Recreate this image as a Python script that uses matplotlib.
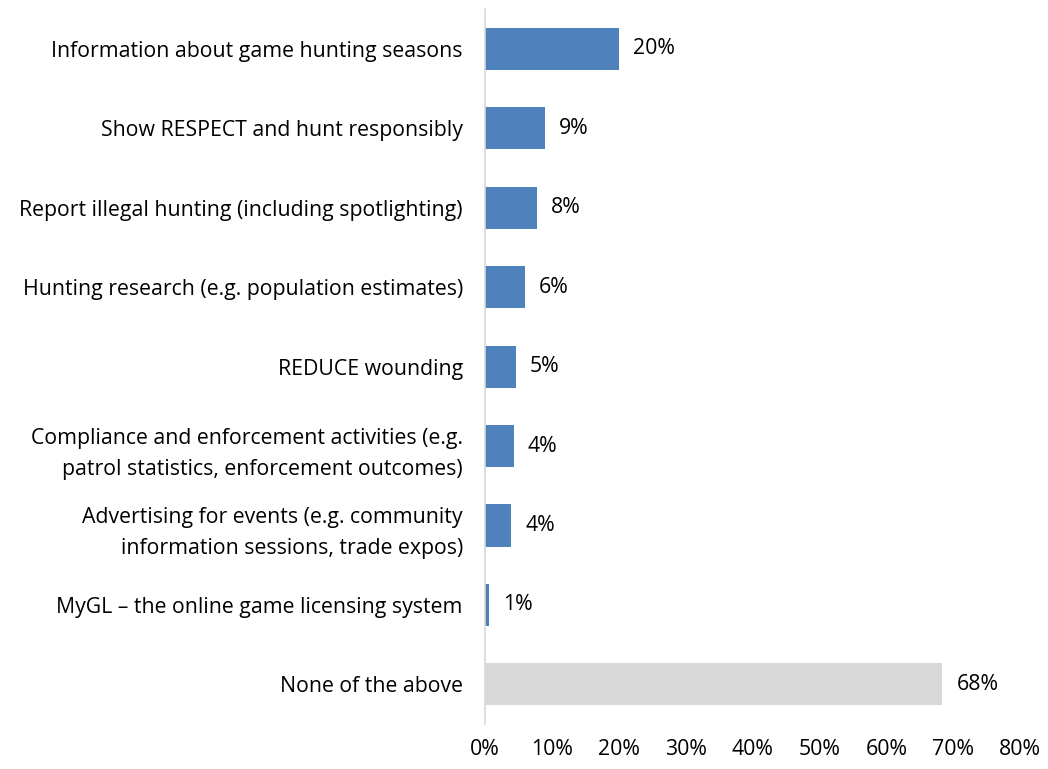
import matplotlib
matplotlib.use('Agg')
import matplotlib.pyplot as plt
from matplotlib.ticker import FuncFormatter

plt.rcParams['font.family'] = ['Open Sans', 'DejaVu Sans']

# Share of respondents, percent (top to bottom)
categories = [
    'Information about game hunting seasons',
    'Show RESPECT and hunt responsibly',
    'Report illegal hunting (including spotlighting)',
    'Hunting research (e.g. population estimates)',
    'REDUCE wounding',
    'Compliance and enforcement activities (e.g.\npatrol statistics, enforcement outcomes)',
    'Advertising for events (e.g. community\ninformation sessions, trade expos)',
    'MyGL \u2013 the online game licensing system',
    'None of the above',
]
values = [20.0, 9.0, 7.8, 6.0, 4.6, 4.3, 3.9, 0.6, 68.4]
bar_colors = ['#4f81bd'] * 8 + ['#d9d9d9']
xticks = [0, 10, 20, 30, 40, 50, 60, 70, 80]

fs = 15.3

fig = plt.figure(figsize=(10.48, 7.69), dpi=100)
ax = fig.add_axes([0.4628, 0.0585, 0.5105, 0.9295])

ypos = list(range(len(categories)))
ax.barh(ypos, values, height=0.53, color=bar_colors, zorder=2)
ax.set_ylim(len(categories) - 0.5, -0.5)
ax.set_xlim(0, 80)
ax.set_yticks(ypos)
ax.set_yticklabels(categories, fontsize=fs, color='#000000', linespacing=1.65)
ax.set_xticks(xticks)
ax.xaxis.set_major_formatter(FuncFormatter(lambda v, p: f'{v:.0f}%'))
ax.tick_params(axis='x', length=0, pad=11, labelsize=fs, labelcolor='#000000')
ax.tick_params(axis='y', length=0, pad=16)

for s in ['top', 'right', 'bottom']:
    ax.spines[s].set_visible(False)
ax.spines['left'].set_color('#d9d9d9')
ax.spines['left'].set_linewidth(1.2)

for y, v in zip(ypos, values):
    ax.text(v + 2.1, y, f'{v:.0f}%', va='center', ha='left', fontsize=fs, color='#000000')

fig.savefig('out.png', dpi=100)
